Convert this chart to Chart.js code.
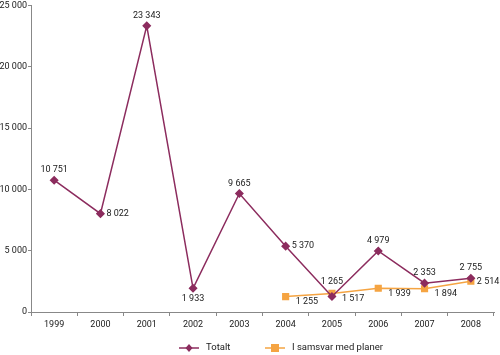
<!DOCTYPE html>
<html><head><meta charset="utf-8">
<script src="https://cdn.jsdelivr.net/npm/chart.js@4"></script>
<style>html,body{margin:0;padding:0;background:#fff}#wrap{width:500px;height:355px}</style>
</head><body><div id="wrap"><canvas id="c" width="500" height="355"></canvas></div>
<script>
const categories = ['1999','2000','2001','2002','2003','2004','2005','2006','2007','2008'];
const totalt = [10751, 8022, 23343, 1933, 9665, 5370, 1265, 4979, 2353, 2755];
const planer = [null, null, null, null, null, 1255, 1517, 1939, 1894, 2514];
const seriesNames = ['Totalt', 'I samsvar med planer'];
const yTicks = [0, 5000, 10000, 15000, 20000, 25000];

const fmt = v => String(v).replace(/\B(?=(\d{3})+(?!\d))/g, ' ');
const FONT = 'Roboto, sans-serif';
const purple = '#8c2c5e', orange = '#f5a442';

// label placement per point
const posT = [['a',-10],['r',0],['a',-10],['b',10],['a',-10],['r',0],['a',-15],['a',-10],['a',-10],['a',-10]];
const posP = [null,null,null,null,null,['br',5],['br',5],['br',6],['br',5],['r',1]];

const labelPlugin = {
  id: 'labels',
  afterDatasetsDraw(chart) {
    const ctx = chart.ctx;
    ctx.save();
    ctx.font = '9px ' + FONT;
    ctx.fillStyle = '#1a1a1a';
    [[0, totalt, posT], [1, planer, posP]].forEach(([di, data, pos]) => {
      const meta = chart.getDatasetMeta(di);
      meta.data.forEach((pt, i) => {
        if (data[i] == null) return;
        const p = pos[i];
        const t = fmt(data[i]);
        let x = pt.x, y = pt.y;
        ctx.textBaseline = 'middle';
        if (p[0] === 'a' || p[0] === 'b') {
          ctx.textAlign = 'center';
          y += p[1];
        } else if (p[0] === 'r') {
          ctx.textAlign = 'left';
          x += 6; y += p[1];
        } else {
          ctx.textAlign = 'left';
          x += 10; y += p[1];
        }
        ctx.fillText(t, x, y);
      });
    });
    // legend
    const items = [[179, purple, 'd', 3.5, seriesNames[0]], [265, orange, 'rect', 4, seriesNames[1]]];
    const ly = 348;
    items.forEach(([x, col, st, r, name]) => {
      ctx.strokeStyle = col; ctx.lineWidth = 1.5;
      ctx.beginPath(); ctx.moveTo(x, ly); ctx.lineTo(x + 20, ly); ctx.stroke();
      ctx.fillStyle = col;
      ctx.beginPath();
      if (st === 'rect') { ctx.fillRect(x + 10 - r, ly - r, 2 * r, 2 * r); }
      else { ctx.moveTo(x + 10, ly - r - 0.5); ctx.lineTo(x + 10 + r, ly); ctx.lineTo(x + 10, ly + r + 0.5); ctx.lineTo(x + 10 - r, ly); ctx.closePath(); ctx.fill(); }
      ctx.fillStyle = '#1a1a1a';
      ctx.textAlign = 'left'; ctx.textBaseline = 'middle';
      ctx.font = '9.5px ' + FONT;
      ctx.fillText(name, x + 27, ly);
    });
    ctx.restore();
  }
};

new Chart(document.getElementById('c'), {
  type: 'line',
  data: {
    labels: categories,
    datasets: [
      { label: seriesNames[0], data: totalt, borderColor: purple, backgroundColor: purple,
        borderWidth: 1.5, pointStyle: 'rectRot', pointRadius: 3.5, tension: 0 },
      { label: seriesNames[1], data: planer, borderColor: orange, backgroundColor: orange,
        borderWidth: 1.5, pointStyle: 'rect', pointRadius: 4, tension: 0, spanGaps: false }
    ]
  },
  options: {
    responsive: false, animation: false, devicePixelRatio: 1,
    layout: { padding: { top: 0, right: 6, left: 0, bottom: 0 } },
    plugins: { legend: { display: false }, tooltip: { enabled: false } },
    scales: {
      x: {
        offset: true,
        grid: { offset: true, drawOnChartArea: false, drawTicks: true, tickLength: 4, color: '#888' },
        border: { color: '#888', width: 1 },
        ticks: { color: '#1a1a1a', font: { size: 9, family: FONT }, padding: 3, maxRotation: 0 },
        afterFit(s) { s.height = 43; }
      },
      y: {
        min: 0, max: 25000,
        afterBuildTicks(s) { s.ticks = yTicks.map(v => ({ value: v })); },
        grid: { drawOnChartArea: false, drawTicks: true, tickLength: 3, color: '#888' },
        border: { color: '#888', width: 1 },
        ticks: { color: '#1a1a1a', font: { size: 9, family: FONT }, padding: 1, callback: v => fmt(v) },
        afterFit(s) { s.width = 31; s.paddingTop = 5; }
      }
    }
  },
  plugins: [labelPlugin]
});
</script></body></html>
